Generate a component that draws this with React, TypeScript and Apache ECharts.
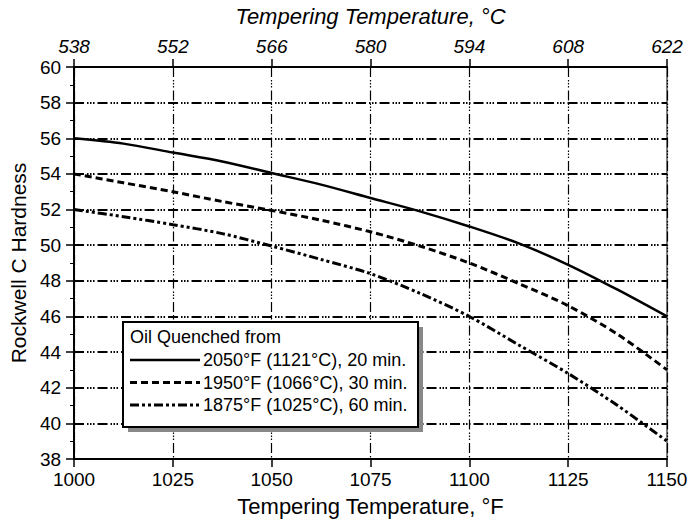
import React, { useEffect, useRef } from "react";
import * as echarts from "echarts";

const tempF = [1000, 1012.5, 1025, 1037.5, 1050, 1062.5, 1075, 1087.5, 1100, 1112.5, 1125, 1137.5, 1150];
const hard2050 = [56.0, 55.7, 55.2, 54.7, 54.05, 53.4, 52.65, 51.9, 51.05, 50.1, 48.9, 47.5, 46.0];
const hard1950 = [54.0, 53.5, 53.0, 52.45, 51.95, 51.4, 50.75, 49.95, 49.0, 47.85, 46.6, 45.0, 43.0];
const hard1875 = [52.0, 51.6, 51.15, 50.65, 49.95, 49.2, 48.4, 47.3, 46.0, 44.4, 42.8, 41.0, 39.0];
const fTicks = [1000, 1025, 1050, 1075, 1100, 1125, 1150];
const cTicks = ["538", "552", "566", "580", "594", "608", "622"];
const legendTitle = "Oil Quenched from";
const seriesNames = ["2050°F (1121°C), 20 min.", "1950°F (1066°C), 30 min.", "1875°F (1025°C), 60 min."];

const FONT = "Liberation Sans";
const dashed = [7, 4];
const dashDot = [9, 3, 3, 3, 3, 3];
const gridDash = [10, 3, 1.5, 1.5, 1.5, 1.5, 1.5, 3];

export default function App() {
  const ref = useRef<HTMLDivElement>(null);
  useEffect(() => {
    const chart = echarts.init(ref.current!, null, { renderer: "svg" });
    const mk = (vals: number[]) => tempF.map((f, i) => [f, vals[i]]);
    const styles = [
      { width: 2.5, type: "solid" as any },
      { width: 3, type: dashed as any },
      { width: 3, type: dashDot as any },
    ];
    const lx = 123, ly = 322, lw = 295, lh = 105;
    const rowY = [360, 382.5, 405];
    const legText = { fontSize: 18, fontFamily: FONT, fill: "#000", verticalAlign: "middle" };
    chart.setOption({
      animation: false,
      backgroundColor: "#fff",
      textStyle: { fontFamily: FONT },
      grid: { left: 67, right: 33, top: 65, bottom: 56, show: true, borderColor: "#000", borderWidth: 1, backgroundColor: "transparent" },
      xAxis: [
        {
          type: "value",
          position: "bottom",
          min: 1000,
          max: 1150,
          interval: 25,
          name: "Tempering Temperature, °F",
          nameLocation: "middle",
          nameGap: 36,
          nameTextStyle: { fontSize: 22, color: "#000", fontFamily: FONT },
          axisLine: { show: true, lineStyle: { color: "#000", width: 2 } },
          axisTick: { show: true, length: 8, inside: false, lineStyle: { color: "#000", width: 1.5 } },
          axisLabel: { fontSize: 19, color: "#000", margin: 11, fontFamily: FONT, formatter: (v: number) => String(v) },
          splitLine: { show: true, lineStyle: { color: "#000", width: 1.2, type: gridDash } },
        },
        {
          type: "value",
          position: "top",
          min: 1000,
          max: 1150,
          interval: 25,
          name: "Tempering Temperature, °C",
          nameLocation: "middle",
          nameGap: 40,
          nameTextStyle: { fontSize: 22, color: "#000", fontStyle: "italic", fontFamily: FONT },
          axisLine: { show: true, lineStyle: { color: "#000", width: 2 } },
          axisTick: { show: true, length: 8, lineStyle: { color: "#000", width: 1.5 } },
          axisLabel: {
            fontSize: 19,
            color: "#000",
            fontStyle: "italic",
            margin: 11,
            fontFamily: FONT,
            formatter: (v: number) => {
              const i = fTicks.indexOf(v);
              return i >= 0 ? cTicks[i] : "";
            },
          },
          splitLine: { show: false },
        },
      ],
      yAxis: {
        type: "value",
        min: 38,
        max: 60,
        interval: 2,
        name: "Rockwell C Hardness",
        nameLocation: "middle",
        nameGap: 36,
        nameTextStyle: { fontSize: 21, color: "#000", fontFamily: FONT },
        axisLine: { show: true, lineStyle: { color: "#000", width: 2 } },
        axisTick: { show: true, length: 8, lineStyle: { color: "#000", width: 1.5 } },
        minorTick: { show: true, splitNumber: 2, length: 4, lineStyle: { color: "#000", width: 1 } },
        axisLabel: { fontSize: 19, color: "#000", margin: 13, fontFamily: FONT },
        splitLine: { show: true, lineStyle: { color: "#000", width: 2, type: gridDash } },
      },
      series: [hard2050, hard1950, hard1875].map((vals, i) => ({
        type: "line",
        name: seriesNames[i],
        xAxisIndex: 0,
        data: mk(vals),
        smooth: 0.3,
        showSymbol: false,
        symbol: "none",
        lineStyle: { color: "#000", width: styles[i].width, type: styles[i].type },
        z: 5,
      })),
      graphic: [
        { type: "rect", shape: { x: lx + 5, y: ly + 5, width: lw, height: lh }, style: { fill: "#888" }, z: 10 },
        { type: "rect", shape: { x: lx, y: ly, width: lw, height: lh }, style: { fill: "#fff", stroke: "#000", lineWidth: 2 }, z: 11 },
        { type: "text", x: lx + 7, y: 337, style: { text: legendTitle, ...legText }, z: 12 },
        ...seriesNames.flatMap((n, i) => [
          {
            type: "line",
            shape: { x1: lx + 7, y1: rowY[i], x2: lx + 77, y2: rowY[i] },
            style: { stroke: "#000", lineWidth: styles[i].width, lineDash: i === 0 ? null : i === 1 ? dashed : dashDot },
            z: 12,
          },
          { type: "text", x: lx + 80, y: rowY[i], style: { text: n, ...legText }, z: 12 },
        ]),
      ],
    });
    return () => chart.dispose();
  }, []);
  return <div ref={ref} style={{ position: "absolute", left: 0, top: 0, width: 700, height: 522 }} />;
}
